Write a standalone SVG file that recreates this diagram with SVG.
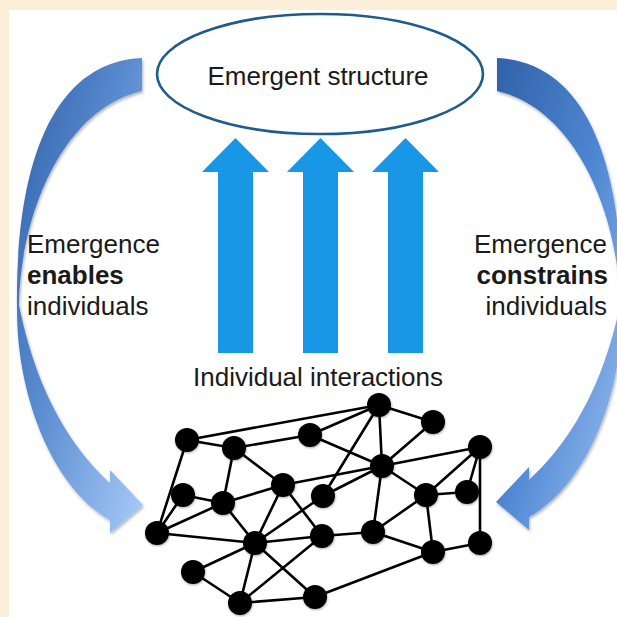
<svg xmlns="http://www.w3.org/2000/svg" width="617" height="617" viewBox="0 0 617 617">
<defs>
<style>
.t{font-family:"Liberation Sans",Arial,Helvetica,sans-serif;font-size:26px;fill:#1a1a1a}
.b{font-weight:bold}
.up{fill:#1797e6}
.e{stroke:#000;stroke-width:2.6;stroke-linecap:round;fill:none}
.n{fill:#000;filter:url(#ns)}
</style>
<linearGradient id="gl" x1="0" y1="0" x2="1" y2="1">
<stop offset="0" stop-color="#2e60a6"/>
<stop offset="0.45" stop-color="#5a8bd0"/>
<stop offset="1" stop-color="#a8cbf8"/>
</linearGradient>
<linearGradient id="gr" x1="0" y1="0" x2="1" y2="1">
<stop offset="0" stop-color="#2f62a8"/>
<stop offset="0.5" stop-color="#4f86d2"/>
<stop offset="1" stop-color="#9cc2f2"/>
</linearGradient>
<filter id="sh" x="-20%" y="-20%" width="140%" height="140%">
<feDropShadow dx="1" dy="2" stdDeviation="1.5" flood-color="#000" flood-opacity="0.3"/>
</filter>
<filter id="ns" x="-30%" y="-30%" width="160%" height="160%">
<feDropShadow dx="0.5" dy="1" stdDeviation="1" flood-color="#000" flood-opacity="0.35"/>
</filter>
</defs>
<rect x="0" y="0" width="617" height="617" fill="#fbefd9"/>
<rect x="9" y="10" width="608" height="607" fill="#ffffff"/>

<g id="curved-arrows">
<path id="arrow-enables" filter="url(#sh)" fill="url(#gl)" d="M142,58 C50,62 15,170 17,310 C17,400 55,490 110,520 L110,533 L143,505 L110,470 L110,483 C85,460 40,410 19,305 C20,220 60,110 142,91 Z"/>
<path id="arrow-constrains" filter="url(#sh)" fill="url(#gr)" d="M497,58 C589,62 624,170 622,310 C622,400 584,487 529,517 L529,530 L496,502 L529,467 L529,480 C554,457 599,407 620,305 C619,220 579,110 497,91 Z"/>
</g>

<g id="emergent-structure">
<ellipse cx="320" cy="74" rx="163" ry="60" fill="#fff" stroke="#1f5c8c" stroke-width="2.6"/>
<text class="t" x="318" y="85" text-anchor="middle">Emergent structure</text>
</g>

<g id="up-arrows">
<polygon class="up" points="235.5,138 269,172 253,172 253,353 218,353 218,172 202,172"/>
<polygon class="up" points="320.5,138 354,172 338,172 338,353 303,353 303,172 287,172"/>
<polygon class="up" points="405.5,138 439,172 423,172 423,353 388,353 388,172 372,172"/>
</g>

<g id="label-left">
<text class="t" x="27" y="253">Emergence</text>
<text class="t b" x="27" y="284">enables</text>
<text class="t" x="27" y="315">individuals</text>
</g>
<g id="label-right">
<text class="t" x="607" y="253" text-anchor="end">Emergence</text>
<text class="t b" x="608" y="284" text-anchor="end">constrains</text>
<text class="t" x="607" y="315" text-anchor="end">individuals</text>
</g>
<g id="label-interactions">
<text class="t" x="193" y="386">Individual interactions</text>
</g>

<g id="connectors">
<line class="e" x1="187" y1="440" x2="379" y2="405"/>
<line class="e" x1="187" y1="440" x2="234" y2="448"/>
<line class="e" x1="187" y1="440" x2="157" y2="533"/>
<line class="e" x1="234" y1="448" x2="310" y2="435"/>
<line class="e" x1="234" y1="448" x2="223" y2="503"/>
<line class="e" x1="234" y1="448" x2="283" y2="485"/>
<line class="e" x1="310" y1="435" x2="379" y2="405"/>
<line class="e" x1="310" y1="435" x2="382" y2="466"/>
<line class="e" x1="183" y1="495" x2="223" y2="503"/>
<line class="e" x1="183" y1="495" x2="157" y2="533"/>
<line class="e" x1="157" y1="533" x2="223" y2="503"/>
<line class="e" x1="157" y1="533" x2="255" y2="543"/>
<line class="e" x1="223" y1="503" x2="283" y2="485"/>
<line class="e" x1="223" y1="503" x2="255" y2="543"/>
<line class="e" x1="283" y1="485" x2="382" y2="466"/>
<line class="e" x1="283" y1="485" x2="255" y2="543"/>
<line class="e" x1="283" y1="485" x2="322" y2="536"/>
<line class="e" x1="323" y1="496" x2="379" y2="405"/>
<line class="e" x1="323" y1="496" x2="382" y2="466"/>
<line class="e" x1="323" y1="496" x2="255" y2="543"/>
<line class="e" x1="255" y1="543" x2="322" y2="536"/>
<line class="e" x1="255" y1="543" x2="193" y2="572"/>
<line class="e" x1="255" y1="543" x2="240" y2="603"/>
<line class="e" x1="255" y1="543" x2="315" y2="597"/>
<line class="e" x1="193" y1="572" x2="240" y2="603"/>
<line class="e" x1="240" y1="603" x2="322" y2="536"/>
<line class="e" x1="240" y1="603" x2="315" y2="597"/>
<line class="e" x1="315" y1="597" x2="433" y2="552"/>
<line class="e" x1="379" y1="405" x2="433" y2="422"/>
<line class="e" x1="379" y1="405" x2="382" y2="466"/>
<line class="e" x1="433" y1="422" x2="382" y2="466"/>
<line class="e" x1="382" y1="466" x2="480" y2="447"/>
<line class="e" x1="382" y1="466" x2="426" y2="495"/>
<line class="e" x1="382" y1="466" x2="373" y2="532"/>
<line class="e" x1="480" y1="447" x2="426" y2="495"/>
<line class="e" x1="480" y1="447" x2="467" y2="492"/>
<line class="e" x1="480" y1="447" x2="480" y2="543"/>
<line class="e" x1="426" y1="495" x2="467" y2="492"/>
<line class="e" x1="426" y1="495" x2="433" y2="552"/>
<line class="e" x1="426" y1="495" x2="373" y2="532"/>
<line class="e" x1="373" y1="532" x2="322" y2="536"/>
<line class="e" x1="373" y1="532" x2="433" y2="552"/>
<line class="e" x1="433" y1="552" x2="480" y2="543"/>
</g>

<g id="nodes">
<circle id="nA" class="n" cx="187" cy="440" r="12"/>
<circle id="nB" class="n" cx="234" cy="448" r="12"/>
<circle id="nC" class="n" cx="310" cy="435" r="12"/>
<circle id="nD" class="n" cx="183" cy="495" r="12"/>
<circle id="nE" class="n" cx="223" cy="503" r="12"/>
<circle id="nF" class="n" cx="283" cy="485" r="12"/>
<circle id="nG" class="n" cx="323" cy="496" r="12"/>
<circle id="nH" class="n" cx="157" cy="533" r="12"/>
<circle id="nI" class="n" cx="255" cy="543" r="12"/>
<circle id="nJ" class="n" cx="322" cy="536" r="12"/>
<circle id="nK" class="n" cx="193" cy="572" r="12"/>
<circle id="nL" class="n" cx="240" cy="603" r="12"/>
<circle id="nM" class="n" cx="315" cy="597" r="12"/>
<circle id="nN" class="n" cx="379" cy="405" r="12"/>
<circle id="nP" class="n" cx="433" cy="422" r="12"/>
<circle id="nQ" class="n" cx="382" cy="466" r="12"/>
<circle id="nR" class="n" cx="480" cy="447" r="12"/>
<circle id="nT" class="n" cx="426" cy="495" r="12"/>
<circle id="nU" class="n" cx="467" cy="492" r="12"/>
<circle id="nW" class="n" cx="373" cy="532" r="12"/>
<circle id="nX" class="n" cx="433" cy="552" r="12"/>
<circle id="nY" class="n" cx="480" cy="543" r="12"/>
</g>
</svg>
